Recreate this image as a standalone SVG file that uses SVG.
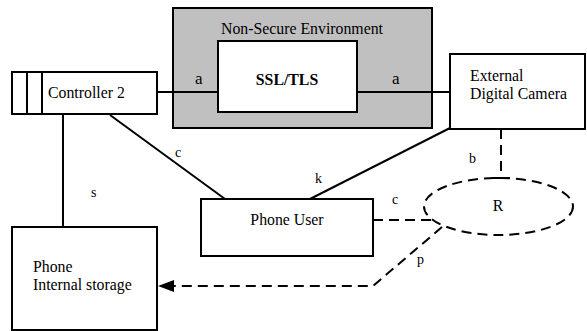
<svg xmlns="http://www.w3.org/2000/svg" width="587" height="331" viewBox="0 0 587 331">
<style>
  .box { fill: #fff; stroke: #000; stroke-width: 2; }
  .ln { fill: none; stroke: #000; stroke-width: 2; }
  .dash { fill: none; stroke: #000; stroke-width: 2; stroke-dasharray: 10 6; }
  text { font-family: "Liberation Serif", "Times New Roman", serif; font-size: 15.8px; fill: #000; }
  .lbl { font-size: 14px; }
  .big { font-size: 17px; }
</style>
<rect width="587" height="331" fill="#fff"/>

<g id="nonsecure">
  <rect x="173" y="8" width="259" height="120" fill="#c0c0c0" stroke="#000" stroke-width="2"/>
  <text x="302" y="34" text-anchor="middle">Non-Secure Environment</text>
</g>

<g id="connectors">
  <line class="ln" x1="157" y1="92" x2="218" y2="92"/>
  <line class="ln" x1="357" y1="92" x2="450" y2="92"/>
  <line class="ln" x1="110" y1="115" x2="225" y2="199"/>
  <line class="ln" x1="63" y1="114" x2="63" y2="227"/>
  <line class="ln" x1="450" y1="128" x2="310" y2="199"/>
  <line class="dash" x1="501" y1="129" x2="501" y2="178"/>
  <line class="ln" x1="492" y1="178" x2="510" y2="178"/>
  <line class="dash" x1="373" y1="220" x2="433" y2="220"/>
  <polyline class="dash" points="442,227 373,286 170,286"/>
  <path d="M158,286 L174,280 L174,292 Z" fill="#000"/>
  <text x="195" y="84" class="big">a</text>
  <text x="392" y="84" class="big">a</text>
  <text x="175" y="157" class="lbl">c</text>
  <text x="91" y="197" class="lbl">s</text>
  <text x="315" y="183" class="lbl">k</text>
  <text x="469" y="163" class="lbl">b</text>
  <text x="392" y="204" class="lbl">c</text>
  <text x="417" y="264" class="lbl">p</text>
</g>

<g id="ssl">
  <rect class="box" x="218" y="41" width="139" height="71"/>
  <text x="287" y="85" text-anchor="middle" font-weight="bold">SSL/TLS</text>
</g>

<g id="controller">
  <rect class="box" x="12" y="72" width="145" height="42"/>
  <line class="ln" x1="27" y1="72" x2="27" y2="114"/>
  <line class="ln" x1="42" y1="72" x2="42" y2="114"/>
  <text x="48" y="98">Controller 2</text>
</g>

<g id="camera">
  <rect class="box" x="450" y="54" width="135" height="75"/>
  <text x="470" y="81">External</text>
  <text x="470" y="99">Digital Camera</text>
</g>

<g id="phoneuser">
  <rect class="box" x="201" y="199" width="172" height="57"/>
  <text x="287" y="225" text-anchor="middle">Phone User</text>
</g>

<g id="storage">
  <rect class="box" x="12" y="227" width="145" height="103"/>
  <text x="33" y="272">Phone</text>
  <text x="33" y="290">Internal storage</text>
</g>

<g id="r">
  <ellipse class="dash" cx="498.5" cy="206.5" rx="74.5" ry="28.5"/>
  <text x="498" y="211" text-anchor="middle">R</text>
</g>
</svg>
